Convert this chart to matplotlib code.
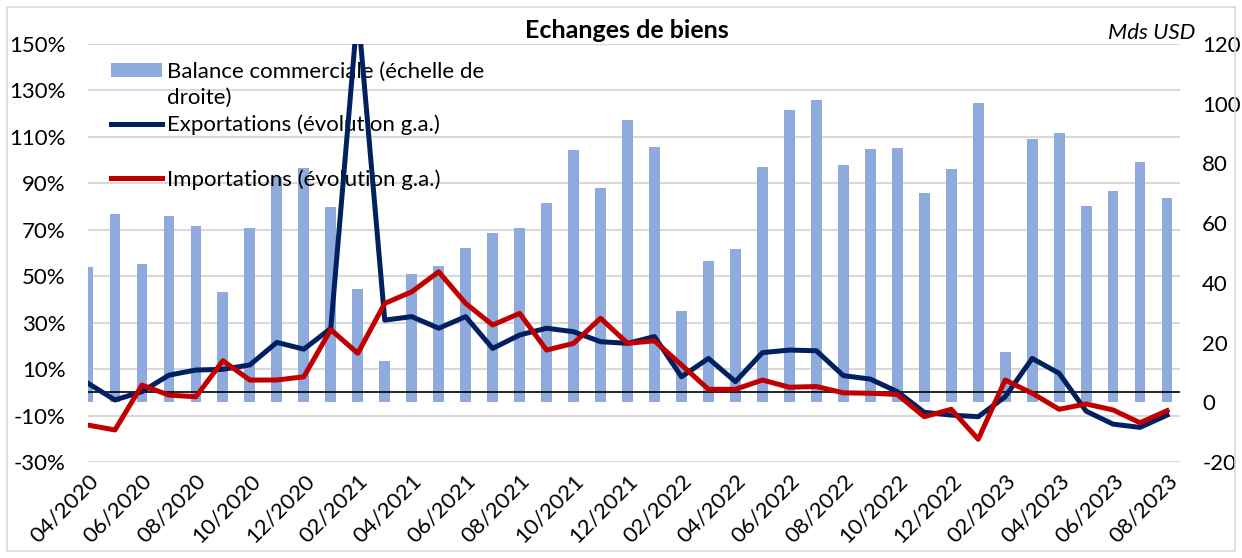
import matplotlib

matplotlib.use("Agg")
import matplotlib.pyplot as plt
import matplotlib.transforms as mtransforms
from matplotlib.lines import Line2D
from matplotlib.patches import Patch, Rectangle
import numpy as np
import pandas as pd

plt.rcParams["font.family"] = ["Lato", "DejaVu Sans"]
plt.rcParams["axes.unicode_minus"] = False

# months 04/2020 .. 08/2023
months = list(pd.date_range("2020-04-01", periods=41, freq="MS").strftime("%m/%Y"))

# trade balance, bn USD (right axis)
balance = [45.4, 63.0, 46.4, 62.4, 58.9, 36.9, 58.5, 75.6, 78.4, 65.5,
           38.0, 13.9, 43.0, 45.6, 51.6, 56.6, 58.4, 66.8, 84.5, 71.7,
           94.5, 85.5, 30.7, 47.3, 51.2, 78.8, 98.0, 101.3, 79.5, 84.7,
           85.3, 70.0, 78.0, 100.1, 16.9, 88.2, 90.2, 65.7, 70.7, 80.6,
           68.4]

# year-on-year change, % (left axis)
exports = [3.9, -3.3, 0.3, 7.4, 9.6, 9.9, 11.8, 21.5, 18.6, 27.5,
           165.0, 31.1, 32.6, 27.6, 32.6, 18.9, 24.7, 27.6, 26.1, 21.8,
           21.1, 24.0, 6.7, 14.6, 4.6, 17.1, 18.2, 17.9, 7.2, 5.7,
           0.3, -8.6, -9.8, -10.5, -1.9, 14.6, 8.2, -8.1, -13.7, -15.1,
           -9.8]
imports = [-14.1, -16.2, 3.1, -1.2, -1.9, 13.6, 5.3, 5.3, 6.7, 27.0,
           16.8, 38.3, 43.3, 51.9, 38.3, 29.0, 34.0, 18.2, 21.1, 31.9,
           21.1, 22.2, 11.8, 1.3, 1.3, 5.3, 2.2, 2.5, -0.2, -0.4,
           -0.9, -10.5, -7.3, -20.2, 5.3, -0.4, -7.3, -5.0, -7.6, -13.1,
           -7.9]

left_ticks = [-30, -10, 10, 30, 50, 70, 90, 110, 130, 150]
right_ticks = [-20, 0, 20, 40, 60, 80, 100, 120]

BAR_COLOR = "#8FAADC"
NAVY = "#002060"
RED = "#C00000"
GRID = "#D9D9D9"
FS = 16
LW = 3.6

W, H = 1242, 558
fig = plt.figure(figsize=(W / 100, H / 100), dpi=100)
rect = [88 / W, 1 - 462 / H, (1180 - 88) / W, (462 - 44) / H]
ax_bar = fig.add_axes(rect)
ax = ax_bar.twinx()
ax.set_zorder(ax_bar.get_zorder() + 1)
ax.patch.set_visible(False)

x = np.arange(len(months))

# bars on the right scale
ax_bar.bar(x, balance, width=0.4, color=BAR_COLOR, zorder=2)
ax_bar.set_ylim(-20, 120)
ax_bar.yaxis.tick_right()
ax_bar.set_yticks(right_ticks)
ax_bar.set_yticklabels([str(t) for t in right_ticks])

# left scale
ax.yaxis.tick_left()
ax.set_ylim(-30, 150)
ax.set_yticks(left_ticks)
ax.set_yticklabels([f"{t}%" for t in left_ticks])

# gridlines follow the left scale but sit behind the bars
blend = mtransforms.blended_transform_factory(ax_bar.transAxes, ax.transData)
for t in left_ticks:
    ax_bar.add_line(Line2D([0, 1], [t, t], transform=blend, color=GRID, lw=1.5, zorder=1))

ax.axhline(0, color="black", lw=1.2, zorder=3)
ax.plot(x, exports, color=NAVY, lw=LW, zorder=4, solid_joinstyle="round")
ax.plot(x, imports, color=RED, lw=LW, zorder=4, solid_joinstyle="round")

ax_bar.set_xlim(0, 40.48)
ax_bar.set_xticks(x[::2])
ax_bar.set_xticklabels(months[::2], rotation=45, ha="right", va="top",
                       rotation_mode="anchor", fontsize=FS)

for a in (ax, ax_bar):
    for s in a.spines.values():
        s.set_visible(False)
    a.tick_params(length=0, labelsize=FS)
ax.tick_params(axis="y", pad=16)
ax_bar.tick_params(axis="y", pad=16)
ax_bar.tick_params(axis="x", pad=6)

# legend (kept in the bar axes so the lines pass over its text)
blank = Patch(facecolor="none", edgecolor="none")
leg1 = ax_bar.legend(
    [Patch(facecolor=BAR_COLOR), blank, Line2D([], [], color=NAVY, lw=LW)],
    ["Balance commerciale (échelle de", "droite)", "Exportations (évolution g.a.)"],
    loc="upper left", bbox_to_anchor=(111 / W, 1 - 62 / H), bbox_transform=fig.transFigure,
    frameon=False, fontsize=FS, handlelength=2.3, handletextpad=0.2,
    labelspacing=0.28, borderpad=0, borderaxespad=0, handleheight=0.6,
)
ax_bar.add_artist(leg1)
ax_bar.legend(
    [Line2D([], [], color=RED, lw=LW)], ["Importations (évolution g.a.)"],
    loc="upper left", bbox_to_anchor=(111 / W, 1 - 169 / H), bbox_transform=fig.transFigure,
    frameon=False, fontsize=FS, handlelength=2.3, handletextpad=0.2,
    borderpad=0, borderaxespad=0,
)

fig.text(627 / W, 1 - 31 / H, "Echanges de biens", ha="center", va="center",
         fontsize=18, fontweight="bold")
fig.text(1195 / W, 1 - 33 / H, "Mds USD", ha="right", va="center",
         fontsize=FS, style="italic")

fig.patches.append(Rectangle((7 / W, 7 / H), 1 - 14 / W, 1 - 14 / H, transform=fig.transFigure,
                             fill=False, edgecolor=GRID, lw=1.2))

fig.savefig("out.png", dpi=100)
